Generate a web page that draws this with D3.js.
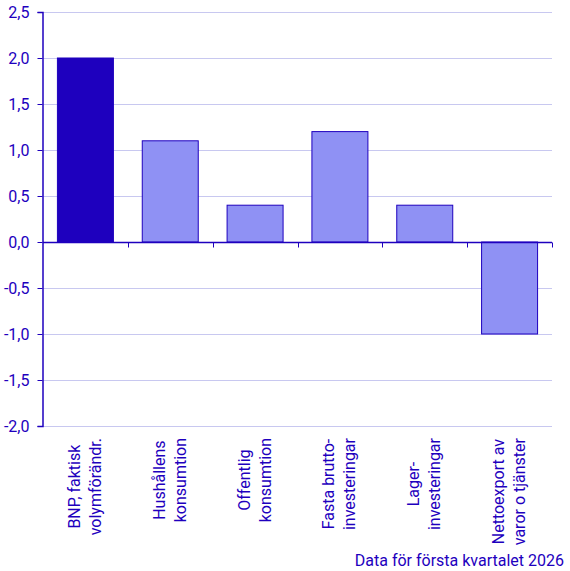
<!DOCTYPE html>
<html>
<head>
<meta charset="utf-8">
<script src="https://cdn.jsdelivr.net/npm/d3@7"></script>
<style>
body{margin:0;background:#fff;}
svg text{font-family:Roboto, "Liberation Sans", sans-serif;fill:#1e00be;}
</style>
</head>
<body>
<div class="graphics"></div>
<script>
// kategorier (två rader per etikett)
var categories = [
    ["BNP, faktisk", "volymförändr."],
    ["Hushållens", "konsumtion"],
    ["Offentlig", "konsumtion"],
    ["Fasta brutto-", "investeringar"],
    ["Lager-", "investeringar"],
    ["Nettoexport av", "varor o tjänster"]
];
var values = [2.0, 1.1, 0.4, 1.2, 0.4, -1.0];
var yTicks = [-2.0, -1.5, -1.0, -0.5, 0.0, 0.5, 1.0, 1.5, 2.0, 2.5];
var footnote = "Data för första kvartalet 2026";

var w = 570, h = 571;
// "top" krockar med window.top, därför andra namn
var plotLeft = 43, plotRight = 552, plotTop = 12, plotBottom = 426;
var dark = "#1e00be", light = "#8f91f4", grid = "#c8c8f0";
var fontSize = 16;

var svg = d3.select(".graphics").append("svg")
    .attr("width", w).attr("height", h);

var x = d3.scaleBand()
    .domain(d3.range(categories.length))
    .range([plotLeft, plotRight])
    .paddingInner(0.34)
    .paddingOuter(0.17);

var y = d3.scaleLinear()
    .domain([-2.0, 2.5])
    .range([plotBottom, plotTop]);

// rutnät
svg.selectAll("line.grid")
    .data(yTicks.filter(function(d){ return d != 0; }))
    .enter().append("line")
    .attr("class", "grid")
    .attr("x1", plotLeft).attr("x2", plotRight)
    .attr("y1", function(d){ return Math.round(y(d)) + 0.5; })
    .attr("y2", function(d){ return Math.round(y(d)) + 0.5; })
    .attr("stroke", grid).attr("stroke-width", 1);

// staplar
svg.selectAll("rect")
    .data(values)
    .enter().append("rect")
    .attr("x", function(d,i){ return x(i); })
    .attr("y", function(d){ return y(Math.max(0, d)); })
    .attr("width", x.bandwidth())
    .attr("height", function(d){ return Math.abs(y(d) - y(0)); })
    .attr("fill", function(d,i){ return i == 0 ? dark : light; })
    .attr("stroke", dark).attr("stroke-width", 1);

// y-axel
var yAxis = d3.axisLeft(y)
    .tickValues(yTicks)
    .tickSize(5)
    .tickFormat(function(d){ return d3.format(".1f")(d).replace(".", ",").replace("−", "-"); });
var gy = svg.append("g").attr("transform", "translate(" + (plotLeft - 0.5) + ",0)").call(yAxis);
gy.select(".domain").attr("stroke", dark).attr("stroke-width", 1.5);
gy.selectAll(".tick line").attr("stroke", dark);
gy.selectAll(".tick text").attr("font-size", fontSize).attr("x", -13).attr("fill", dark);

// nollinje med kategoriavskiljare
var zeroY = Math.round(y(0)) + 0.5;
svg.append("line")
    .attr("x1", plotLeft).attr("x2", plotRight)
    .attr("y1", zeroY).attr("y2", zeroY)
    .attr("stroke", dark).attr("stroke-width", 1.5);
svg.selectAll("line.sep")
    .data(d3.range(1, categories.length + 1))
    .enter().append("line")
    .attr("class", "sep")
    .attr("x1", function(i){ return Math.round(plotLeft + i * (plotRight - plotLeft) / categories.length) + 0.5; })
    .attr("x2", function(i){ return Math.round(plotLeft + i * (plotRight - plotLeft) / categories.length) + 0.5; })
    .attr("y1", zeroY).attr("y2", zeroY + 5)
    .attr("stroke", dark).attr("stroke-width", 1);

// kategorietiketter, roterade
var labelTop = 438;
categories.forEach(function(lines, i){
    var cx = x(i) + x.bandwidth() / 2;
    var g = svg.append("g");
    var texts = lines.map(function(t){
        return g.append("text")
            .attr("font-size", fontSize)
            .attr("text-anchor", "middle")
            .text(t);
    });
    var maxW = d3.max(texts, function(t){ return t.node().getComputedTextLength(); });
    var cy = labelTop + maxW / 2;
    texts.forEach(function(t, j){
        var off = (j - (lines.length - 1) / 2) * 21;
        t.attr("transform", "translate(" + (cx + off + 5) + "," + cy + ") rotate(-90)");
    });
});

svg.append("text")
    .attr("x", 564).attr("y", 566)
    .attr("text-anchor", "end")
    .attr("font-size", fontSize)
    .text(footnote);
</script>
</body>
</html>
